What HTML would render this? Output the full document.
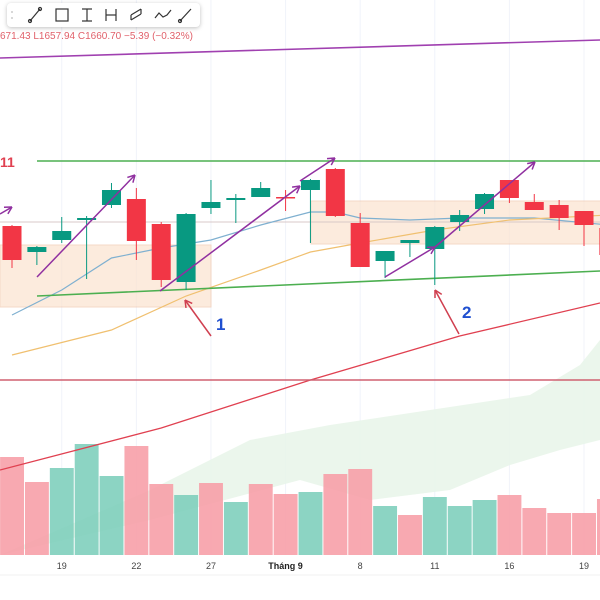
<!DOCTYPE html>
<html><head><meta charset="utf-8">
<style>
body{margin:0;width:600px;height:600px;overflow:hidden;background:#fff;font-family:"Liberation Sans","Noto Sans CJK SC",sans-serif;}
svg{position:absolute;left:0;top:0}
#toolbar{position:absolute;left:7px;top:3px;width:193px;height:24px;background:#fff;border-radius:4px;box-shadow:0 1px 4px rgba(0,0,0,.25)}
#ohlc{position:absolute;left:0;top:31px;font-size:10px;color:#e0606a;white-space:nowrap}
</style></head><body>
<svg id="chart" width="600" height="600"></svg>
<div id="ohlc">671.43 L1657.94 C1660.70 −5.39 (−0.32%)</div>
<div id="toolbar">
<svg width="193" height="24">
<g stroke="#333" fill="none" stroke-width="1.2">
<circle cx="5" cy="9" r="1" fill="#ccc" stroke="none"/><circle cx="5" cy="15" r="1" fill="#ccc" stroke="none"/>
<g><line x1="23" y1="18" x2="33" y2="6"/><circle cx="23" cy="18" r="1.5"/><circle cx="33" cy="6" r="1.5"/></g>
<g><rect x="49" y="6" width="12" height="12"/></g>
<g><line x1="75" y1="6" x2="85" y2="6"/><line x1="80" y1="6" x2="80" y2="18"/><line x1="75" y1="18" x2="85" y2="18"/></g>
<g><line x1="99" y1="6" x2="99" y2="18"/><line x1="109" y1="6" x2="109" y2="18"/><line x1="99" y1="12" x2="109" y2="12"/></g>
<g><path d="M124 12l10-6M124 17l10-6M124 12v5M134 6v5"/></g>
<g><path d="M148 15l4-5 4 4 4-2 4-5"/></g>
<g><line x1="173" y1="18" x2="184" y2="6"/><circle cx="173" cy="18" r="1.5"/></g>
</g></svg></div>
<script>
const opens=[374,348,360,380,395,401,376,318,392,400,403,403,410,431,377,339,357,351,378,391,420,398,395,389,372];
const highs=[375,354,383,384,417,412,378,387,420,406,418,410,421,432,387,349,360,374,390,407,420,406,400,389,372];
const lows=[332,335,357,321,392,340,313,310,386,377,403,389,357,383,333,322,343,315,369,386,397,390,370,354,340];
const closes=[340,353,369,382,410,359,320,386,398,402,412,402,420,384,333,349,360,373,385,406,402,390,382,375,345];
const volumes=[98,73,87,111,79,109,71,60,72,53,71,61,63,81,86,49,40,58,49,55,60,47,42,42,56];
const volUp=[0,0,1,1,1,0,0,1,0,1,0,0,1,0,0,1,0,1,1,1,0,0,0,0,0];
const tickLabels=["19","22","27","Tháng 9","8","11","16","19"];
const tickIdx=[2,5,8,11,14,17,20,23];
const maFast=[[0,285],[2,310],[4,342],[6,352],[8,360],[10,375],[12,388],[13,388],[14,382],[16,380],[18,382],[21,382],[24,375]];
const maSlow=[[0,245],[4,270],[7,304],[10,330],[12,348],[14,357],[17,370],[20,380],[24,385]];
const ma200=[[0,130],[6,172],[12,220],[18,264],[24,297]];
const S=document.getElementById('chart'),NS='http://www.w3.org/2000/svg';
const xS=i=>12+24.87*i, yS=v=>600-v, vX=i=>xS(i)-12.4, vY=v=>555-v;
function el(t,a,p){const e=document.createElementNS(NS,t);for(const k in a)e.setAttribute(k,a[k]);(p||S).appendChild(e);return e;}
for(let k=0;k<tickIdx.length;k++){const g=el('line',{x1:xS(tickIdx[k]),x2:xS(tickIdx[k]),y1:0,y2:555,stroke:'#f0f3fa'});

}
const cl=el('path',{d:'M0 555 L150 520 L300 480 L370 500 L450 490 L510 465 L560 450 L600 440 L600 340 L580 365 L530 395 L430 410 L330 425 L250 440 L150 490 Z',fill:'#e8f5e9',opacity:.85});


for(let i=0;i<volumes.length;i++){const r=el('rect',{x:vX(i)+0.5,y:vY(volumes[i]),width:23.9,height:volumes[i],fill:volUp[i]?'#7fcfbd':'#f7a0a8',opacity:.9});

}
const b1=el('rect',{x:0,y:245,width:211,height:62,fill:'#fbe3cf',opacity:.7,stroke:'#f0c8b0'});


const b2=el('rect',{x:311,y:201,width:300,height:43,fill:'#fbe3cf',opacity:.7,stroke:'#f0c8b0'});


const hl=el('line',{x1:0,x2:600,y1:222,y2:222,stroke:'#d9c8c8'});


function poly(pts,c,n){const p=el('polyline',{points:pts.map(q=>xS(q[0])+','+yS(q[1])).join(' '),fill:'none',stroke:c,'stroke-width':1.2});

}
poly(maFast,'#7fb0d0','ma-fast');poly(maSlow,'#f0c070','ma-slow');
const m2=el('polyline',{points:ma200.map(q=>(q[0]==0?0:q[0]==24?600:xS(q[0]))+','+yS(q[1])).join(' '),fill:'none',stroke:'#e04050','stroke-width':1.3});


function ln(a,c,w,n){const l=el('line',Object.assign({stroke:c,'stroke-width':w},a));}
ln({x1:0,y1:58,x2:600,y2:40},'#a040b0',1.6,'top-trendline');
ln({x1:37,y1:161,x2:600,y2:161},'#4caf50',1.6,'resistance-line');
ln({x1:37,y1:296,x2:600,y2:271},'#4caf50',1.6,'support-trendline');
ln({x1:0,y1:380,x2:600,y2:380},'#d06070',1.4,'horizontal-line');
const t11=el('text',{x:0,y:167,fill:'#e04050','font-size':14,'font-weight':'bold'});t11.textContent='11';


for(let i=0;i<opens.length;i++){const up=closes[i]>=opens[i],c=up?'#089981':'#f23645',x=xS(i);
const w=el('line',{x1:x,x2:x,y1:yS(highs[i]),y2:yS(lows[i]),stroke:c});


const b=el('rect',{x:x-9.5,y:yS(Math.max(opens[i],closes[i])),width:19,height:Math.max(1.5,Math.abs(opens[i]-closes[i])),fill:c});

}
function arr(x1,y1,x2,y2,c,n){ln({x1,y1,x2,y2},c,1.5,n);const a=Math.atan2(y2-y1,x2-x1),L=8;
for(const d of[-0.5,0.5])ln({x1:x2,y1:y2,x2:x2-L*Math.cos(a+d),y2:y2-L*Math.sin(a+d)},c,1.5,n+'-head');}
arr(0,214,12,207,'#9030a0','arrow-up-0');arr(37,277,135,175,'#9030a0','arrow-up-1');
arr(160,291,300,186,'#9030a0','arrow-up-2a');arr(300,181,335,158,'#9030a0','arrow-up-2b');
arr(385,277,435,247,'#9030a0','arrow-up-3a');arr(435,247,535,162,'#9030a0','arrow-up-3b');
arr(211,336,185,300,'#d04050','arrow-1');arr(459,334,435,290,'#d04050','arrow-2');
function tx(x,y,s,n,a){const t=el('text',Object.assign({x,y},a));t.textContent=s;}
tx(216,330,'1','label-1',{fill:'#2050d0','font-size':17,'font-weight':'bold'});
tx(462,318,'2','label-2',{fill:'#2050d0','font-size':17,'font-weight':'bold'});
ln({x1:0,y1:575,x2:600,y2:575},'#f0f0f0',1,'axis-border');
for(let k=0;k<tickLabels.length;k++){tx(xS(tickIdx[k]),569,tickLabels[k],'x-tick-label',{'text-anchor':'middle','font-size':9,fill:tickLabels[k].length>3?'#222':'#444','font-weight':tickLabels[k].length>3?'bold':'normal'});}
</script>
</body></html>
